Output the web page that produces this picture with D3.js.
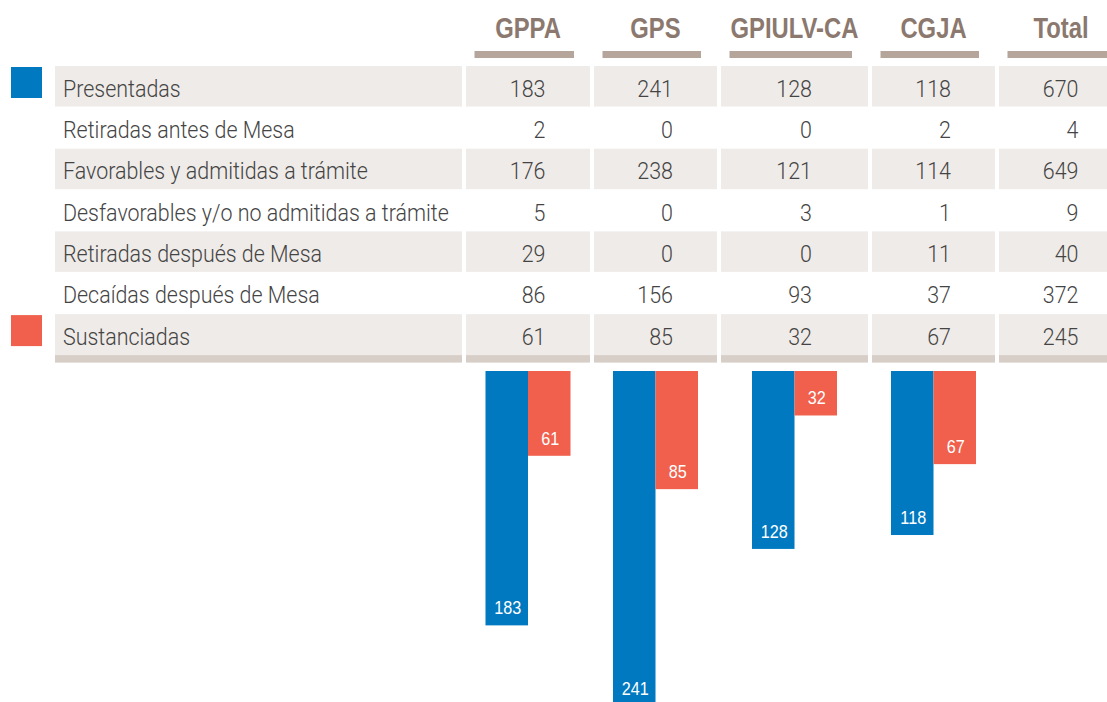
<!DOCTYPE html>
<html>
<head>
<meta charset="utf-8">
<script src="https://cdn.jsdelivr.net/npm/d3@7"></script>
<style>
  html, body { margin: 0; padding: 0; background: #ffffff; }
  svg { display: block; }
</style>
</head>
<body>
<svg id="chart" width="1107" height="702"></svg>
<script>
// Iniciativas por grupo parlamentario
const groups = ["GPPA", "GPS", "GPIULV-CA", "CGJA", "Total"];
const rowLabels = [
  "Presentadas",
  "Retiradas antes de Mesa",
  "Favorables y admitidas a trámite",
  "Desfavorables y/o no admitidas a trámite",
  "Retiradas después de Mesa",
  "Decaídas después de Mesa",
  "Sustanciadas"
];
const gppa   = [183, 2, 176, 5, 29, 86, 61];
const gps    = [241, 0, 238, 0, 0, 156, 85];
const gpiulv = [128, 0, 121, 3, 0, 93, 32];
const cgja   = [118, 2, 114, 1, 11, 37, 67];
const total  = [670, 4, 649, 9, 40, 372, 245];
const seriesNames = ["Presentadas", "Sustanciadas"];

const columnValues = [gppa, gps, gpiulv, cgja, total];
const colors = { Presentadas: "#0079c1", Sustanciadas: "#f0604c" };

const svg = d3.select("#chart");

// condensed look: text is drawn with a regular face and squeezed horizontally
const bodyFont = "Roboto, 'Liberation Sans', sans-serif";
const headFont = "'Liberation Sans', Arial, sans-serif";

function measure(text, font, size, weight) {
  const t = svg.append("text").attr("font-family", font).attr("font-size", size)
    .attr("font-weight", weight).text(text);
  const w = t.node().getComputedTextLength();
  t.remove();
  return w;
}
const bodySize = 23, bodyWeight = 300;
const bodyK = 386 / measure(rowLabels[3], bodyFont, bodySize, bodyWeight);
const headSize = 29;
const headK = 128 / measure("GPIULV-CA", headFont, headSize, "bold");

// ---- table layout ----
const colWidths = [124, 123, 147, 123, 124];
const colGap = 4;
const tableLeft = 466;
const colX = [];
colWidths.reduce((x, w) => { colX.push(x); return x + w + colGap; }, tableLeft);
const colCenter = colX.map((x, i) => x + colWidths[i] / 2);

const labelCellX = 55, labelCellW = 407;
const rowTop = 66, rowPitch = 41.35, cellH = 40.5;
const rowY = d3.scaleLinear().domain([0, 1]).range([rowTop, rowTop + rowPitch]);

const cellFill = "#efebe8";
const stripFill = "#d8cec8";
const headColor = "#8b786e";
const headBar = "#b5a59b";
const textColor = "#444444";

// header titles and underline bars
const head = svg.append("g").attr("class", "header");
head.selectAll("text").data(groups).join("text")
  .attr("transform", (d, i) => `translate(${colCenter[i]},37.5) scale(${headK},1)`)
  .attr("text-anchor", "middle")
  .attr("font-family", headFont)
  .attr("font-weight", "bold")
  .attr("font-size", headSize)
  .attr("fill", headColor)
  .text(d => d);
head.selectAll("rect").data(groups).join("rect")
  .attr("x", (d, i) => colX[i] + 8.5)
  .attr("y", 51)
  .attr("width", (d, i) => colWidths[i] - 24.5)
  .attr("height", 7)
  .attr("fill", headBar);

// table rows; every other row is shaded
const body = svg.append("g").attr("class", "table");
rowLabels.forEach((label, r) => {
  const y = rowY(r);
  const shaded = r % 2 === 0;
  const h = r === rowLabels.length - 1 ? 41 : cellH;
  const g = body.append("g");
  if (shaded) {
    g.append("rect").attr("x", labelCellX).attr("y", y)
      .attr("width", labelCellW).attr("height", h).attr("fill", cellFill);
    colWidths.forEach((w, c) => {
      g.append("rect").attr("x", colX[c]).attr("y", y)
        .attr("width", w).attr("height", h).attr("fill", cellFill);
    });
  }
  g.append("text")
    .attr("transform", `translate(63,${y + 30.5}) scale(${bodyK},1)`)
    .attr("font-family", bodyFont)
    .attr("font-weight", bodyWeight)
    .attr("font-size", bodySize)
    .attr("fill", textColor)
    .text(label);
  columnValues.forEach((vals, c) => {
    g.append("text")
      .attr("transform", `translate(${colCenter[c] + 17.5},${y + 30.5}) scale(${bodyK},1)`)
      .attr("text-anchor", "end")
      .attr("font-family", bodyFont)
      .attr("font-weight", bodyWeight)
      .attr("font-size", bodySize)
      .attr("fill", textColor)
      .text(vals[r]);
  });
});

// bottom strip under the last row
const stripY = rowY(rowLabels.length - 1) + 41;
body.append("rect").attr("x", labelCellX).attr("y", stripY)
  .attr("width", labelCellW).attr("height", 7.5).attr("fill", stripFill);
colWidths.forEach((w, c) => {
  body.append("rect").attr("x", colX[c]).attr("y", stripY)
    .attr("width", w).attr("height", 7.5).attr("fill", stripFill);
});

// legend squares next to the two charted rows
[0, rowLabels.length - 1].forEach((r, i) => {
  svg.append("rect")
    .attr("x", 11).attr("y", rowY(r) + 1)
    .attr("width", 31).attr("height", 31)
    .attr("fill", colors[seriesNames[i]]);
});

// ---- hanging bars: Presentadas vs Sustanciadas per group ----
const barTop = 371;
const yBar = d3.scaleLinear().domain([0, 250]).range([barTop, barTop + 347.5]);
const barGroups = groups.slice(0, 4).map((g, i) => ({
  group: g,
  center: colCenter[i],
  values: [columnValues[i][0], columnValues[i][rowLabels.length - 1]]
}));

const bars = svg.append("g").attr("class", "bars");
barGroups.forEach(bg => {
  const x = d3.scaleBand().domain(seriesNames)
    .range([bg.center - 42.5, bg.center + 42.5]).padding(0);
  const gg = bars.append("g");
  gg.selectAll("rect").data(seriesNames).join("rect")
    .attr("x", d => x(d))
    .attr("y", barTop)
    .attr("width", x.bandwidth())
    .attr("height", (d, i) => yBar(bg.values[i]) - barTop)
    .attr("fill", d => colors[d]);
  gg.selectAll("text").data(seriesNames).join("text")
    .attr("transform", (d, i) =>
      `translate(${x(d) + x.bandwidth() / 2 + 1},${Math.min(yBar(bg.values[i]), 706) - 11}) scale(0.9,1)`)
    .attr("text-anchor", "middle")
    .attr("font-family", "'Liberation Sans', Arial, sans-serif")
    .attr("font-size", 18)
    .attr("fill", "#ffffff")
    .text((d, i) => bg.values[i]);
});
</script>
</body>
</html>
